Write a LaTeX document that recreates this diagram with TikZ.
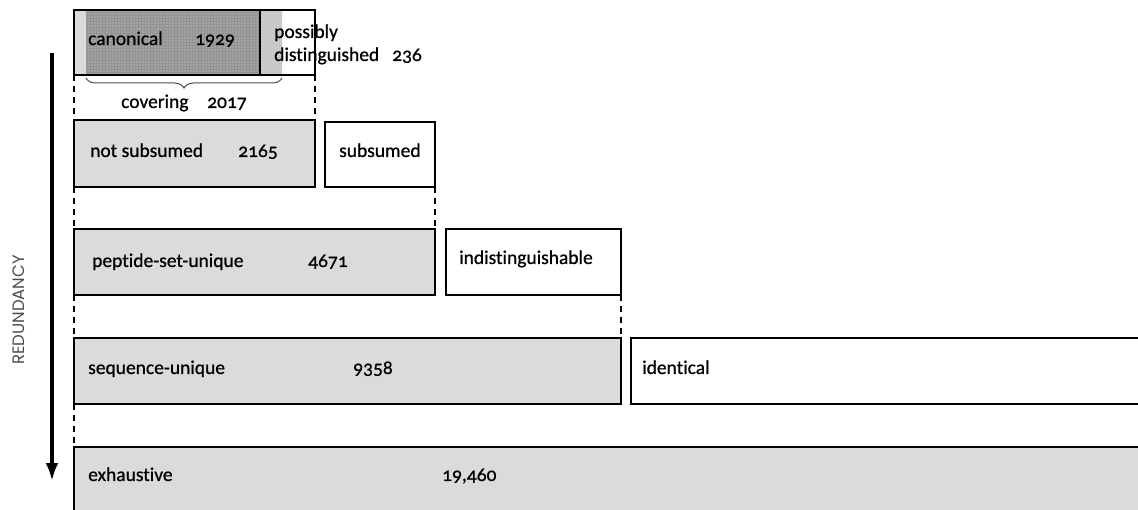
\documentclass[tikz,border=0pt]{standalone}
\usepackage{fontspec}
\setmainfont{Carlito}[Numbers=OldStyle]
\newfontfamily\lblfont{Carlito}[Numbers=OldStyle, Ligatures=NoCommon, FakeBold=0.7]
\newfontfamily\axisfont{Poppins}
\usetikzlibrary{positioning, patterns, decorations.pathreplacing, arrows.meta}
\definecolor{boxgray}{gray}{0.86}
\definecolor{canongray}{gray}{0.64}
\definecolor{possgray}{gray}{0.80}
\definecolor{axisgray}{gray}{0.30}
\tikzset{
  setbox/.style={draw, line width=1.4pt, inner sep=0pt, outer sep=0pt, anchor=north west},
  fullbox/.style={setbox, fill=boxgray},
  restbox/.style={setbox, fill=white},
  lbl/.style={anchor=west, inner sep=0pt, font=\lblfont\fontsize{19.5}{22}\selectfont, text height=1.5ex, text depth=.25ex},
  link/.style={dash pattern=on 6pt off 5pt, line width=1.4pt}
}
\begin{document}
\begin{tikzpicture}[x=1pt, y=-1pt, >={Latex[length=18pt,width=13pt]}]
\useasboundingbox (0,0) rectangle (1138,510);
\clip (0,0) rectangle (1138,510);
\fill[boxgray] (74,10) rectangle (86,75);
\fill[canongray] (86,10) rectangle (260,75);
\fill[pattern=grid, pattern color=gray!85] (86,10) rectangle (260,75);
\fill[possgray] (260,10) rectangle (282,75);
\fill[pattern=grid, pattern color=gray!45] (260,10) rectangle (282,75);
\node[setbox, minimum width=241pt, minimum height=65pt] (canon) at (74,10) {};
\draw[line width=1.4pt] (260,10) -- (260,75);
\node[lbl] (canonlbl) at (88,42) {canonical};
\node[lbl] (canonnum) at (195,42) {1929};
\node[lbl] (posslbl) at (274,35) {possibly};
\node[lbl] (distlbl) at (274,58) {distinguished};
\node[lbl] (possnum) at (392,58) {236};
\draw[decorate, decoration={brace, mirror, amplitude=10pt}, line width=1pt, black!70] (86,78) -- (282,78);
\node[lbl] (covlbl) at (121,105) {covering};
\node[lbl] (covnum) at (207,105) {2017};

\node[fullbox, minimum width=241pt, minimum height=67pt] (notsub) at (74,120) {};
\node[restbox, minimum width=110pt, minimum height=65pt] (sub) at (325,122) {};
\node[lbl] (notsublbl) at (90,154) {not subsumed};
\node[lbl] (notsubnum) at (238,154) {2165};
\node[lbl] (sublbl) at (339,154) {subsumed};

\node[fullbox, minimum width=361pt, minimum height=66pt] (pep) at (74,229) {};
\node[restbox, minimum width=175pt, minimum height=66pt] (indist) at (446,229) {};
\node[lbl] (peplbl) at (92,264) {peptide-set-unique};
\node[lbl] (pepnum) at (308,264) {4671};
\node[lbl] (indistlbl) at (459,261) {indistinguishable};

\node[fullbox, minimum width=547pt, minimum height=66pt] (seq) at (74,338) {};
\node[restbox, minimum width=560pt, minimum height=66pt] (ident) at (631,338) {};
\node[lbl] (seqlbl) at (88,371) {sequence-unique};
\node[lbl] (seqnum) at (353,371) {9358};
\node[lbl] (identlbl) at (642,371) {identical};

\node[fullbox, minimum width=1100pt, minimum height=90pt] (exh) at (74,447) {};
\node[lbl] (exhlbl) at (88,478) {exhaustive};
\node[lbl] (exhnum) at (442,478) {19,460};

\draw[link] (canon.south west) -- (notsub.north west);
\draw[link] (canon.south east) -- (notsub.north east);
\draw[link] (notsub.south west) -- (pep.north west);
\draw[link] (sub.south east) -- (pep.north east);
\draw[link] (pep.south west) -- (seq.north west);
\draw[link] (indist.south east) -- (seq.north east);
\draw[link] (seq.south west) -- (exh.north west);

\coordinate (redtop) at (52,53);
\coordinate (redbot) at (52,481);
\draw[->, line width=3.5pt] (redtop) -- (redbot);
\node[rotate=90, text=axisgray, font=\axisfont\fontsize{16.5}{18}\selectfont] (redlbl) at (19,310) {REDUNDANCY};
\end{tikzpicture}
\end{document}
